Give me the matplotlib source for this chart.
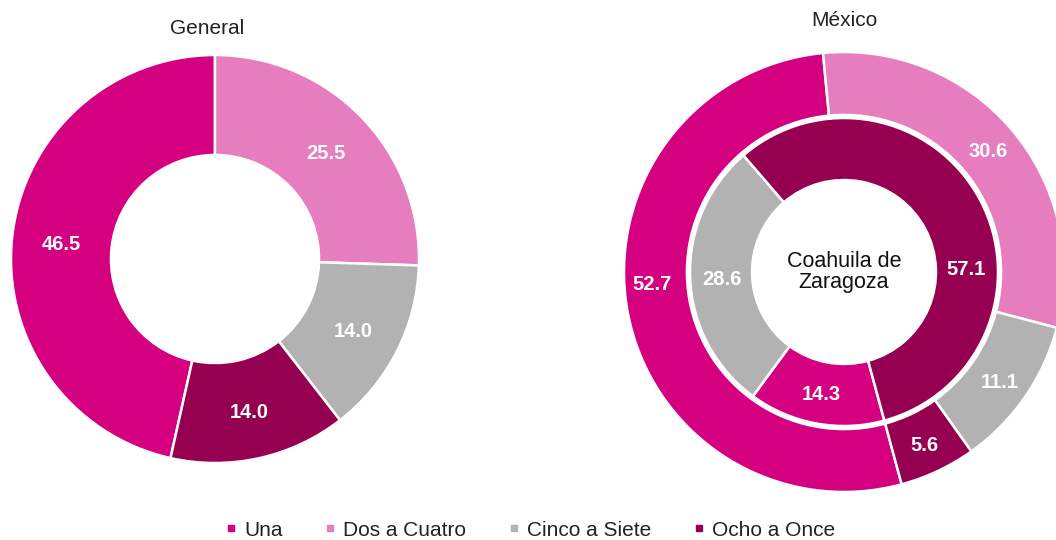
import numpy as np
import matplotlib
matplotlib.use("Agg")
import matplotlib.pyplot as plt
from matplotlib.lines import Line2D
from matplotlib.transforms import offset_copy

plt.rcParams['font.family'] = ['Liberation Sans', 'DejaVu Sans']

categories = ["Una", "Dos a Cuatro", "Cinco a Siete", "Ocho a Once"]
colors = ["#D5007F", "#E67DBE", "#B2B2B2", "#950050"]

general = [46.5, 25.5, 14.0, 14.0]
mexico = [52.7, 30.6, 11.1, 5.6]
coahuila = [14.3, 0.0, 28.6, 57.1]

title_general = "General"
title_mexico = "México"
center_label = "Coahuila de\nZaragoza"

W, H = 1056, 540
fig = plt.figure(figsize=(W / 100, H / 100), dpi=100)


def add_axes_px(cx, cy, r):
    return fig.add_axes([(cx - r) / W, (H - cy - r) / H, 2 * r / W, 2 * r / H])


def label_ring(ax, wedges, values, rmid, overrides=None):
    overrides = overrides or {}
    tr = offset_copy(ax.transData, fig=fig, x=0, y=-2.5, units="dots")
    for i, (w, v) in enumerate(zip(wedges, values)):
        if v <= 0:
            continue
        ang_deg = (w.theta1 + w.theta2) / 2
        r = rmid
        if i in overrides:
            ang_deg, r = overrides[i]
        ang = np.deg2rad(ang_deg)
        ax.text(r * np.cos(ang), r * np.sin(ang), f"{v:.1f}",
                ha="center", va="center", color="white", transform=tr,
                fontsize=14.5, fontweight="bold")


edge = dict(edgecolor="white", linewidth=1.8)

# Left donut (General)
ax1 = add_axes_px(215, 259, 204)
w1, _ = ax1.pie(general, colors=colors, startangle=257.4, counterclock=False,
                radius=1.0, wedgeprops=dict(width=0.49, **edge))
ax1.set_xlim(-1, 1)
ax1.set_ylim(-1, 1)
ax1.set_aspect("equal")
label_ring(ax1, w1, general, 0.76)
fig.text(207 / W, 1 - 28 / H, title_general, ha="center", va="center",
         fontsize=15, color="#222222")

# Right donut (México outer, Coahuila inner)
ax2 = add_axes_px(844, 272, 220)
w2, _ = ax2.pie(mexico, colors=colors, startangle=285.2, counterclock=False,
                radius=1.0, wedgeprops=dict(width=0.286, **edge))
w3, _ = ax2.pie(coahuila, colors=colors, startangle=285.2, counterclock=False,
                radius=0.70, wedgeprops=dict(width=0.282, **edge))
ax2.set_xlim(-1, 1)
ax2.set_ylim(-1, 1)
ax2.set_aspect("equal")
label_ring(ax2, w2, mexico, 0.86, overrides={0: (183.0, 0.874)})
label_ring(ax2, w3, coahuila, 0.557, overrides={3: (2.3, 0.555)})
ax2.text(0, 0.0, center_label, ha="center", va="center", fontsize=15.5,
         color="#111111", linespacing=1.05)
fig.text(844 / W, 1 - 20 / H, title_mexico, ha="center", va="center",
         fontsize=15, color="#222222")

# Legend
handles = [Line2D([], [], linestyle="none", marker="s", markersize=4.5,
                  markerfacecolor=c, markeredgecolor=c) for c in colors]
fig.legend(handles, categories, loc="center", bbox_to_anchor=(530 / W, 1 - 530 / H),
           ncol=4, frameon=False, fontsize=15, handlelength=0.6,
           handletextpad=0.32, columnspacing=2.0, labelcolor="#222222",
           borderpad=0.0)

fig.savefig("out.png", dpi=100)
